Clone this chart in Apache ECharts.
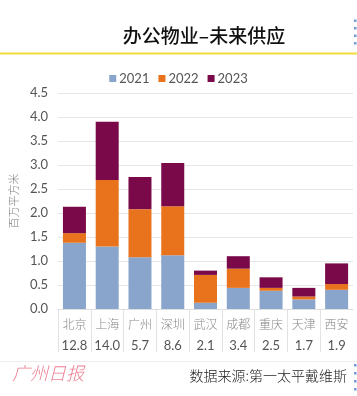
<!DOCTYPE html>
<html>
<head>
<meta charset="utf-8">
<script src="https://cdn.jsdelivr.net/npm/echarts@6/dist/echarts.min.js"></script>
<style>
html,body{margin:0;padding:0;background:#fff;}
#c{width:357px;height:396px;}
</style>
</head>
<body>
<div id="c"></div>
<script>
const categories = ['北京','上海','广州','深圳','武汉','成都','重庆','天津','西安'];
const totals = ['12.8','14.0','5.7','8.6','2.1','3.4','2.5','1.7','1.9'];
const s2021 = [1.38, 1.30, 1.08, 1.12, 0.13, 0.44, 0.38, 0.20, 0.40];
const s2022 = [0.20, 1.39, 1.00, 1.02, 0.58, 0.40, 0.06, 0.06, 0.12];
const s2023 = [0.55, 1.21, 0.67, 0.90, 0.09, 0.26, 0.22, 0.18, 0.43];
const yTicks = ['0.0','0.5','1.0','1.5','2.0','2.5','3.0','3.5','4.0','4.5'];

const chart = echarts.init(document.getElementById('c'), null, {renderer:'canvas'});
const numFont = 'Lato, "Open Sans", sans-serif';
const cjk = '"Noto Sans CJK SC", sans-serif';

const dots = [];
[20.5, 28, 35.5, 43].forEach(y => dots.push({type:'rect', shape:{x:354, y:y-1, width:2.5, height:2.5}, style:{fill:'#6f9bd6'}}));
[365, 373, 381, 389].forEach(y => dots.push({type:'rect', shape:{x:354, y:y-1, width:2.5, height:2.5}, style:{fill:'#6f9bd6'}}));

chart.setOption({
  animation: false,
  backgroundColor: '#fff',
  title: {
    text: '办公物业–未来供应',
    left: 199, top: 21, textAlign: 'center',
    textStyle: {fontFamily: cjk, fontSize: 19, fontWeight: 500, color: '#111'}
  },
  legend: {
    top: 67, left: 'center',
    itemWidth: 7, itemHeight: 7, itemGap: 9,
    icon: 'rect',
    textStyle: {fontFamily: numFont, fontSize: 13, color: '#555', padding:[0,0,0,-2]},
    data: ['2021','2022','2023']
  },
  grid: {left: 44, right: 4, top: 93, bottom: 87, containLabel: false},
  xAxis: {
    type: 'category',
    data: categories,
    axisLine: {show: true, lineStyle: {color: '#dddddd'}},
    axisTick: {show: true, length: 43, lineStyle: {color: '#e2e2e2'}},
    axisLabel: {
      interval: 0,
      margin: 5,
      formatter: (v, i) => '{c|' + v + '}\n{v|' + totals[i] + '}',
      rich: {
        c: {fontFamily: cjk, fontSize: 12, fontWeight: 300, color: '#888', lineHeight: 21, align: 'center'},
        v: {fontFamily: numFont, fontSize: 13, color: '#555', lineHeight: 21, align: 'center'}
      }
    }
  },
  yAxis: {
    type: 'value', min: 0, max: 4.5, interval: 0.5,
    name: '百万平方米', nameLocation: 'middle', nameGap: 33, nameRotate: 90,
    nameTextStyle: {fontFamily: cjk, fontSize: 11, fontWeight: 300, color: '#777'},
    axisLine: {show: false}, axisTick: {show: false},
    axisLabel: {margin: 10, fontFamily: numFont, fontSize: 13, color: '#555',
      formatter: v => yTicks[Math.round(v / 0.5)]},
    splitLine: {lineStyle: {color: '#e6e6e6'}}
  },
  series: [
    {name:'2021', type:'bar', stack:'a', data:s2021, barWidth:23, itemStyle:{color:'#8aa5cb'}},
    {name:'2022', type:'bar', stack:'a', data:s2022, barWidth:23, itemStyle:{color:'#e8731c'}},
    {name:'2023', type:'bar', stack:'a', data:s2023, barWidth:23, itemStyle:{color:'#7a0949'}}
  ],
  graphic: [
    {type:'rect', shape:{x:0, y:52.5, width:357, height:2}, style:{fill:'#f2dc3a'}},
    {type:'rect', shape:{x:0, y:361, width:357, height:1}, style:{fill:'#eeeeee'}},
    {type:'text', left: 12, top: 364, style:{text:'广州日报', font:'italic 300 18px "Noto Sans CJK SC"', fill:'#ec7f92'}},
    {type:'text', right: 10, top: 369, style:{text:'数据来源:第一太平戴维斯', font:'300 14px "Noto Sans CJK SC"', fill:'#222'}}
  ].concat(dots)
});
</script>
</body>
</html>
